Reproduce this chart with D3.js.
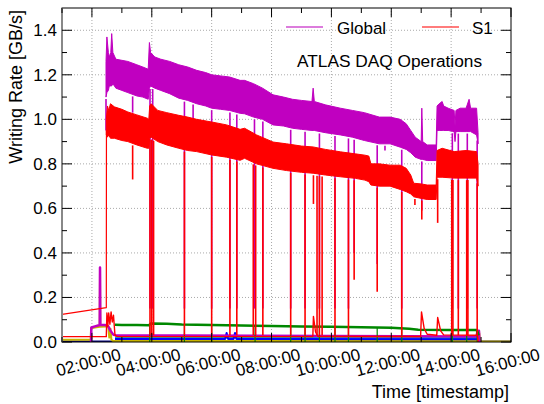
<!DOCTYPE html>
<html><head><meta charset="utf-8">
<script src="https://cdn.jsdelivr.net/npm/d3@7"></script>
<style>body{margin:0;background:#fff}svg{display:block;font-family:"Liberation Sans",Arial,sans-serif}</style>
</head><body><svg id="c" width="544" height="404"></svg>
<script>
// ---- data (hours of day, GB/s) ----
const xTicks = [2,4,6,8,10,12,14,16];
const yTicks = [0.0,0.2,0.4,0.6,0.8,1.0,1.2,1.4];
const seriesNames = ["Global","S1"];

// Global band (upper / lower envelope of the noisy trace)
const gT  = [2.47,2.50,2.55,2.58,2.63,2.66,2.70,2.80,3.00,3.20,3.50,3.70,3.88,3.92,3.96,4.10,4.30,4.60,4.90,5.20,5.50,5.80,6.00,6.30,6.60,6.95,7.10,7.40,7.70,8.05,8.40,8.70,9.00,9.35,9.39,9.43,9.80,10.30,10.70,11.10,11.60,11.96,12.30,12.50,12.65,12.80,13.00,13.02,13.05,13.20,13.50,13.53,13.60,13.70,13.75,13.90,14.10,14.13,14.16,14.30,14.50,14.60,14.65,14.85,14.90];
const gHi = [1.26,1.37,1.30,1.28,1.30,1.385,1.30,1.27,1.265,1.26,1.245,1.235,1.225,1.345,1.30,1.28,1.27,1.26,1.245,1.235,1.22,1.21,1.20,1.195,1.19,1.175,1.175,1.16,1.14,1.11,1.10,1.09,1.085,1.08,1.14,1.08,1.065,1.05,1.04,1.03,1.01,1.01,1.00,0.98,0.95,0.92,0.90,1.05,0.90,0.885,0.885,1.06,1.07,1.08,1.06,1.05,1.04,0.97,1.04,1.05,1.05,1.09,1.05,1.05,0.94];
const gLo = [1.10,1.12,1.13,1.15,1.15,1.15,1.16,1.14,1.13,1.12,1.105,1.10,1.09,1.14,1.15,1.14,1.13,1.115,1.095,1.085,1.07,1.06,1.05,1.045,1.04,1.027,1.025,1.01,1.0,0.975,0.97,0.96,0.955,0.95,0.95,0.95,0.94,0.93,0.92,0.905,0.89,0.89,0.875,0.865,0.85,0.83,0.82,0.82,0.82,0.815,0.815,0.95,0.95,0.95,0.95,0.95,0.945,0.90,0.945,0.945,0.945,0.945,0.945,0.93,0.89];
const gDipT = [2.47,3.36,3.94,4.03,5.09,5.38,6.00,6.61,6.84,7.43,7.71,8.64,9.12,9.60,10.12,10.57,10.76,11.53,11.79,12.35,13.02,14.04,14.24,14.54,14.87];
const gDipV = [0.95,1.03,0.15,0.15,0.15,1.0,0.15,0.15,0.15,0.15,0.15,0.15,0.15,0.15,0.15,0.15,0.4,0.35,0.86,0.15,0.59,0.15,0.15,0.15,0.15];

// S1 band
const sT  = [2.48,2.52,2.56,2.62,2.75,3.00,3.20,3.50,3.85,3.90,3.93,3.98,4.20,4.50,4.90,5.20,5.50,6.00,6.50,6.95,7.10,7.50,8.05,8.50,9.00,9.39,9.80,10.30,10.80,11.12,11.25,11.32,11.60,11.96,12.30,12.50,12.65,12.75,13.00,13.20,13.50,13.53,13.70,14.10,14.50,14.85,14.90];
const sHi = [1.00,1.06,1.04,1.07,1.056,1.045,1.033,1.02,1.005,1.00,1.06,1.07,1.04,1.03,1.018,1.01,1.00,0.988,0.975,0.955,0.96,0.93,0.898,0.89,0.88,0.876,0.865,0.854,0.845,0.839,0.835,0.80,0.80,0.794,0.794,0.78,0.75,0.713,0.71,0.705,0.705,0.86,0.87,0.855,0.86,0.855,0.80];
const sLo = [0.93,0.92,0.93,0.915,0.915,0.905,0.90,0.885,0.87,0.87,0.915,0.92,0.90,0.885,0.87,0.86,0.855,0.84,0.83,0.816,0.825,0.80,0.78,0.77,0.762,0.758,0.75,0.742,0.735,0.727,0.72,0.705,0.70,0.70,0.685,0.675,0.665,0.652,0.645,0.64,0.64,0.74,0.74,0.736,0.736,0.736,0.70];
const sDipT = [3.36,3.94,4.00,4.06,5.09,6.00,6.61,6.84,7.39,7.47,7.71,8.64,9.12,9.40,9.52,9.60,9.69,10.12,10.57,10.76,11.53,12.35,12.79,13.02,13.55,14.02,14.06,14.24,14.52,14.56,14.87];
const sDipV = [0.73,0.03,0.03,0.03,0.03,0.03,0.03,0.03,0.03,0.03,0.03,0.03,0.03,0.62,0.03,0.03,0.03,0.03,0.03,0.28,0.226,0.03,0.615,0.55,0.535,0.03,0.03,0.03,0.03,0.03,0.03];
const sPreT = [1.0,2.48,2.485];
const sPreV = [0.124,0.154,0.95];

// low-rate streams
const greenT = [2.77,3.00,3.50,3.90,3.96,4.50,5.00,6.00,7.00,8.00,9.00,10.00,11.00,12.00,12.60,12.90,14.00,14.85,14.88,14.92];
const greenV = [0.077,0.076,0.076,0.075,0.083,0.082,0.079,0.076,0.074,0.072,0.070,0.068,0.066,0.064,0.060,0.055,0.054,0.054,0.045,0.030];
const greenDipT = [3.93,5.09,6.00,7.45,8.64,9.12,9.60,10.12,10.57,11.53,12.35,14.04,14.52,14.87];
const magLowT = [1.97,1.98,2.10,2.26,2.27,2.28,2.45,2.55,2.62,2.72,2.80,5.00,10.00,14.85,14.88,14.93,14.95];
const magLowV = [0.0,0.065,0.07,0.076,0.335,0.076,0.076,0.07,0.05,0.032,0.030,0.029,0.027,0.025,0.05,0.05,0.0];
const yelT = [1.0,1.96,1.97,2.10,2.26,2.27,2.28,2.45,2.55,2.58,2.62,2.65,2.70,14.88,14.90,14.94,14.96,16.0];
const yelV = [0.010,0.010,0.062,0.065,0.068,0.325,0.068,0.070,0.065,0.020,0.060,0.010,0.005,0.005,0.040,0.040,0.002,0.002];
const cyanT = [2.77,8.00,14.88];
const cyanV = [0.020,0.019,0.018];
const blueT = [2.77,6.45,6.50,6.55,6.73,6.78,6.83,14.88];
const blueV = [0.013,0.013,0.040,0.013,0.013,0.040,0.013,0.012];
const navyT = [1.0,16.0];
const navyV = [0.002,0.002];
const redLowT = [1.0,2.48,2.50,2.53,2.56,2.60,2.64,2.68,2.72,2.77,2.85,9.38,9.40,9.47,9.55,12.98,13.01,13.10,13.20,13.52,13.55,13.65,13.75,14.88,14.90];
const redLowV = [0.024,0.024,0.13,0.07,0.13,0.08,0.135,0.09,0.12,0.03,0.024,0.024,0.115,0.045,0.025,0.025,0.135,0.06,0.035,0.03,0.11,0.05,0.032,0.03,0.0];

// ---- drawing ----
const W=544,H=404, L=62,R=511,T=8,B=342;
const svg=d3.select("#c");
svg.append("rect").attr("width",W).attr("height",H).attr("fill","#fff");
const x=d3.scaleLinear().domain([1,16]).range([L,R]);
const y=d3.scaleLinear().domain([0,1.5]).range([B,T]);
const MAG="#c000c0", RED="#ff0000";

// grid
const grid=svg.append("g").attr("stroke","#aaa").attr("stroke-dasharray","1,2").attr("stroke-width",1);
xTicks.filter(t=>t<16).forEach(t=>grid.append("line").attr("x1",x(t)).attr("x2",x(t)).attr("y1",T).attr("y2",B));
yTicks.filter(v=>v>0).forEach(v=>grid.append("line").attr("x1",L).attr("x2",R).attr("y1",y(v)).attr("y2",y(v)));

svg.append("clipPath").attr("id","cp").append("rect").attr("x",L).attr("y",T).attr("width",R-L).attr("height",B-T);
const plot=svg.append("g").attr("clip-path","url(#cp)");

const zip=(ts,vs)=>ts.map((t,i)=>[t,vs[i]]);
const line=d3.line().x(d=>x(d[0])).y(d=>y(d[1]));
function drawLine(ts,vs,col,w){plot.append("path").attr("d",line(zip(ts,vs))).attr("fill","none").attr("stroke",col).attr("stroke-width",w).attr("stroke-linejoin","round");}
function interp(ts,vs,t){const i=Math.max(1,Math.min(ts.length-1,d3.bisectLeft(ts,t)));const a=ts[i-1],b=ts[i];const f=b===a?0:(t-a)/(b-a);return vs[i-1]+(vs[i]-vs[i-1])*Math.max(0,Math.min(1,f));}
function drawBand(ts,hi,lo,dT,dV,col){
  const d=ts.map((t,i)=>({t,hi:hi[i],lo:lo[i]}));
  plot.append("path").attr("d",d3.area().x(e=>x(e.t)).y0(e=>y(e.lo)).y1(e=>y(e.hi))(d)).attr("fill",col).attr("stroke",col).attr("stroke-width",1);
  dT.forEach((t,i)=>{plot.append("line").attr("x1",x(t)).attr("x2",x(t)).attr("y1",y(interp(ts,lo,t))+2).attr("y2",y(dV[i])).attr("stroke",col).attr("stroke-width",1.6);});
}

drawLine(navyT,navyV,"#000080",2);
drawLine(yelT,yelV,"#c8b400",2);
drawLine(cyanT,cyanV,"#00b0c0",2);
drawLine(blueT,blueV,"#0000ff",2);
drawLine(magLowT,magLowV,MAG,2.5);
drawLine(greenT,greenV,"#008800",2.5);
greenDipT.forEach(t=>plot.append("line").attr("x1",x(t)).attr("x2",x(t)).attr("y1",y(interp(greenT,greenV,t))).attr("y2",y(0)).attr("stroke","#008800").attr("stroke-width",1.2));
drawLine(redLowT,redLowV,RED,1.4);
drawBand(gT,gHi,gLo,gDipT,gDipV,MAG);
drawLine(sPreT,sPreV,RED,1.2);
drawBand(sT,sHi,sLo,sDipT,sDipV,RED);

// frame and ticks
svg.append("rect").attr("x",L).attr("y",T).attr("width",R-L).attr("height",B-T).attr("fill","none").attr("stroke","#000").attr("stroke-width",1);
svg.append("line").attr("x1",L).attr("x2",L).attr("y1",T).attr("y2",B).attr("stroke","#888").attr("stroke-width",2);
const tk=svg.append("g").attr("stroke","#000").attr("stroke-width",1);
d3.range(1,16.01,1).forEach(t=>{const len=(t%2===0)?9:5;
  tk.append("line").attr("x1",x(t)).attr("x2",x(t)).attr("y1",B).attr("y2",B-len);
  tk.append("line").attr("x1",x(t)).attr("x2",x(t)).attr("y1",T).attr("y2",T+len);});
d3.range(0,15).forEach(k=>{const v=k/10,len=(k%2===0)?10:5;
  tk.append("line").attr("x1",L).attr("x2",L+len).attr("y1",y(v)).attr("y2",y(v));
  tk.append("line").attr("x1",R).attr("x2",R-len).attr("y1",y(v)).attr("y2",y(v));});

// tick labels
const fmt=d3.format("02d");
xTicks.forEach(t=>svg.append("text").attr("transform",`translate(${x(t)-2},368) rotate(-15)`).attr("text-anchor","middle").attr("font-size",17).text(fmt(t)+":00:00"));
yTicks.forEach(v=>svg.append("text").attr("x",57).attr("y",y(v)+6).attr("text-anchor","end").attr("font-size",17).text(d3.format(".1f")(v)));

// titles
svg.append("text").attr("transform","translate(22,10) rotate(-90)").attr("text-anchor","end").attr("font-size",18).text("Writing Rate [GB/s]");
svg.append("text").attr("x",509).attr("y",398).attr("text-anchor","end").attr("font-size",18).text("Time [timestamp]");

// legend
const lg=[{n:seriesNames[0],c:"#d050d0",x1:286,x2:323,tx:337},{n:seriesNames[1],c:"#ff5050",x1:422,x2:459,tx:472}];
const lgG=svg.append("g");
lg.forEach(d=>{lgG.append("line").attr("x1",d.x1).attr("x2",d.x2).attr("y1",27).attr("y2",27).style("stroke",d.c).style("stroke-width","1.5px");
  lgG.append("text").attr("x",d.tx).attr("y",34).attr("font-size",17).text(d.n);});
svg.append("text").attr("x",297).attr("y",67).attr("font-size",17.3).text("ATLAS DAQ Operations");
</script></body></html>
